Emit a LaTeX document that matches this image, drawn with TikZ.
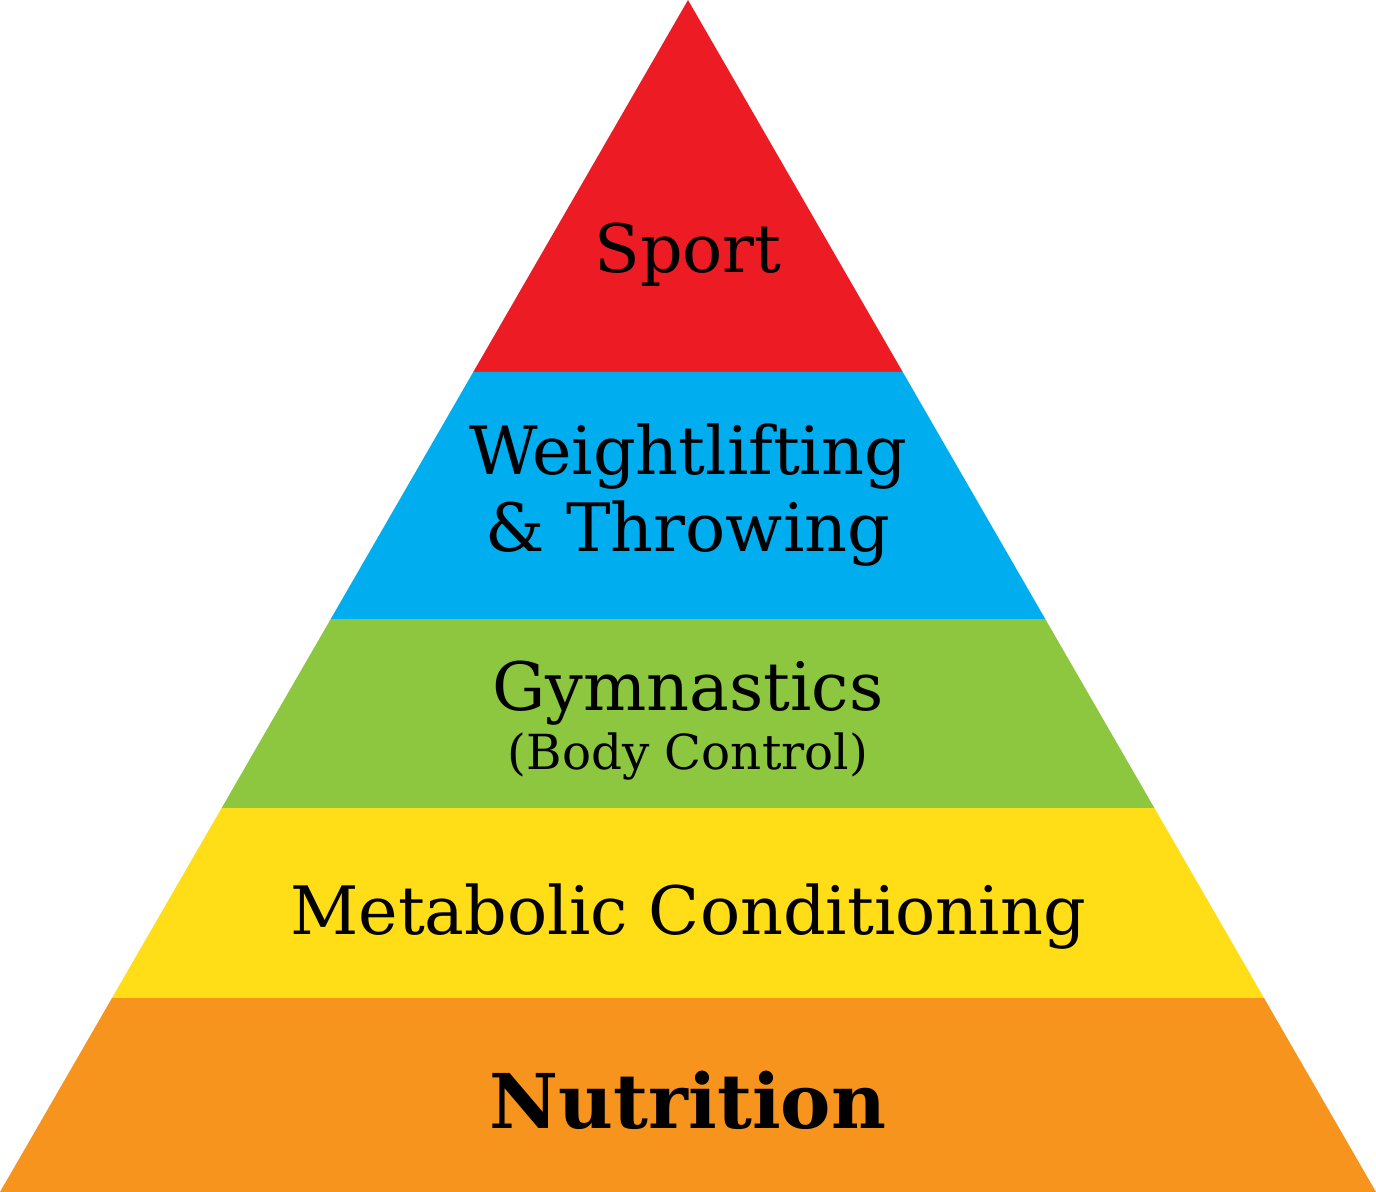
\documentclass[tikz,border=0pt]{standalone}
\usepackage{fontspec}
\setmainfont{DejaVu Serif}
\definecolor{sportred}{HTML}{ED1C24}
\definecolor{liftblue}{HTML}{00AEEF}
\definecolor{gymgreen}{HTML}{8DC63F}
\definecolor{metyellow}{HTML}{FFDE17}
\definecolor{nutorange}{HTML}{F7941D}
\begin{document}
\begin{tikzpicture}[x=0.02cm,y=-0.02cm,
  level/.style={font=\fontsize{38}{44}\selectfont,align=center,inner sep=0pt},
  small/.style={font=\fontsize{27.5}{30}\selectfont,inner sep=0pt},
  base/.style={font=\fontsize{43}{48}\bfseries\selectfont,inner sep=0pt}]
  \useasboundingbox (0,0) rectangle (1376,1192);
  % bands of the pyramid, top to bottom
  \foreach \ya/\yb/\col in {0/372/sportred,372/619/liftblue,619/808/gymgreen,
    808/998/metyellow,998/1192/nutorange}
  \fill[\col] ({688-0.57718*\ya},\ya)--({688+0.57718*\ya},\ya)
    --({688+0.57718*\yb},\yb)--({688-0.57718*\yb},\yb)--cycle;
  \node[level] (sport) at (688,255) {Sport};
  \node[level] (lifting) at (688,495) {Weightlifting\\\& Throwing};
  \node[level] (gym) at (688,693) {Gymnastics};
  \node[small] (bodyctl) at (688,757) {(Body Control)};
  \node[level] (metcon) at (688,917) {Metabolic Conditioning};
  \node[base] (nutrition) at (688,1100) {Nutrition};
\end{tikzpicture}
\end{document}
